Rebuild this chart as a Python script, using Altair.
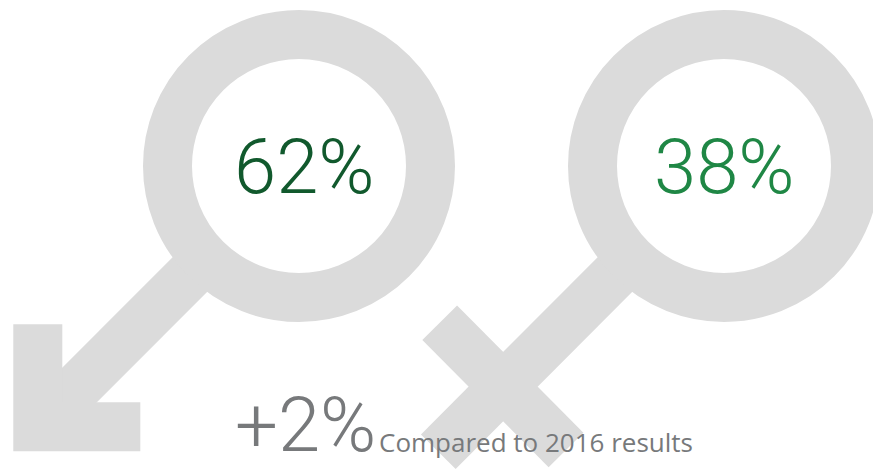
import altair as alt
import pandas as pd

GREY = "#dbdbdb"
W, H = 865, 462
X_DOM = [8, 873]
Y_DOM = [8, 470]

ring_x = [299, 724]
ring_y = [166, 166]

male_shaft_x = [196.0, 37.8]
male_shaft_y = [268.5, 426.8]
male_head_x = [37.8, 37.8, 140.3]
male_head_y = [324.3, 426.8, 426.8]

female_shaft_x = [621.0, 438.3]
female_shaft_y = [268.5, 451.7]
female_bar_x = [439.7, 566.0]
female_bar_y = [322.7, 450.0]

labels = ["62%", "38%", "+2%", "Compared to 2016 results"]
label_x = [234, 654, 235, 379]
label_y = [193, 193, 451, 452]
label_color = ["#11592d", "#1f8745", "#77797b", "#77797b"]

x = alt.X("x:Q", scale=alt.Scale(domain=X_DOM, nice=False, zero=False), axis=None)
y = alt.Y("y:Q", scale=alt.Scale(domain=Y_DOM, reverse=True, nice=False, zero=False), axis=None)


def path(xs, ys):
    d = pd.DataFrame({"x": xs, "y": ys, "o": list(range(len(xs)))})
    return (
        alt.Chart(d)
        .mark_line(color=GREY, strokeWidth=49, strokeCap="butt", strokeJoin="miter", strokeMiterLimit=10)
        .encode(x=x, y=y, order="o:Q")
    )


rings = (
    alt.Chart(pd.DataFrame({"x": ring_x, "y": ring_y}))
    .mark_point(shape="circle", filled=False, stroke=GREY, strokeWidth=49, opacity=1, size=263 ** 2)
    .encode(x=x, y=y)
)


def text_layer(i, font, size, weight):
    d = pd.DataFrame({"x": [label_x[i]], "y": [label_y[i]], "t": [labels[i]]})
    return (
        alt.Chart(d)
        .mark_text(align="left", baseline="alphabetic", font=font, fontSize=size,
                   fontWeight=weight, color=label_color[i])
        .encode(x=x, y=y, text="t:N")
    )


chart = alt.layer(
    path(male_shaft_x, male_shaft_y),
    path(male_head_x, male_head_y),
    path(female_shaft_x, female_shaft_y),
    path(female_bar_x, female_bar_y),
    rings,
    text_layer(0, "Roboto", 76, 300),
    text_layer(1, "Roboto", 76, 300),
    text_layer(2, "Roboto", 76, 300),
    text_layer(3, "Open Sans", 26, 400),
).properties(
    width=W, height=H, padding=0, background="white",
    autosize=alt.AutoSizeParams(type="none", contains="padding"),
).configure_view(stroke=None)

chart.save("out.html", embed_options={"renderer": "svg", "actions": False})
